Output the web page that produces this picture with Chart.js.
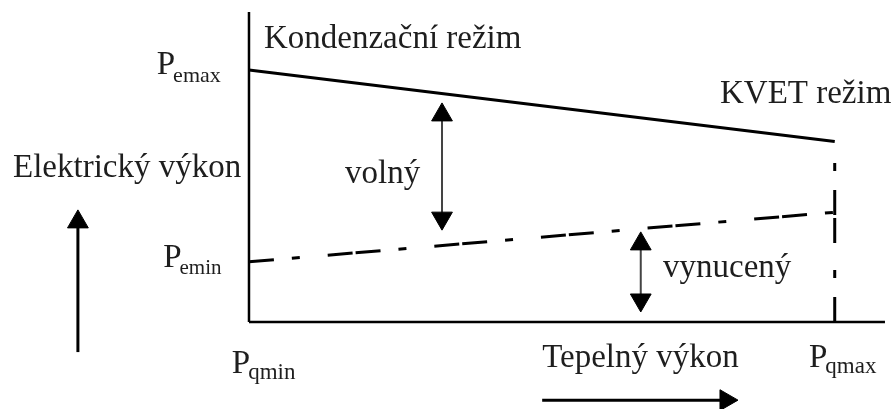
<!DOCTYPE html>
<html>
<head>
<meta charset="utf-8">
<script src="https://cdn.jsdelivr.net/npm/chart.js@4"></script>
<style>
  body { margin: 0; background: #fff; }
  #wrap { width: 894px; height: 409px; }
</style>
</head>
<body>
<div id="wrap"><canvas id="diagram" width="894" height="409"></canvas></div>
<script>
// x: 0 = Pqmin, 100 = end of x axis; y: 0 = x axis, 100 = top of y axis
const qmaxX = 92.1;
const xAxisLine = [{x: 0, y: 0}, {x: 100, y: 0}];
const yAxisLine = [{x: 0, y: 0}, {x: 0, y: 100}];
const condensLine = [{x: 0, y: 81.3}, {x: qmaxX, y: 58.2}];     // Pemax -> KVET
const forcedLine = [{x: 0, y: 19.4}, {x: qmaxX, y: 35.4}];      // Pemin -> dashed
const qmaxLine = [{x: qmaxX, y: 0}, {x: qmaxX, y: 58.2}];
const freeArrow = [{x: 30.35, y: 66.8}, {x: 30.35, y: 33.5}];
const forcedArrow = [{x: 61.6, y: 25.2}, {x: 61.6, y: 7.1}];
const yArrow = [{x: -26.9, y: -9.7}, {x: -26.9, y: 32.3}];
const xArrow = [{x: 46.1, y: -25.2}, {x: 75.0, y: -25.2}];

const labels = [
  {text: 'Kondenzační režim', x: 2.36, y: 88.4},
  {text: 'KVET režim', x: 74.06, y: 70.6},
  {text: 'Elektrický výkon', x: -37.1, y: 46.8},
  {text: 'P', sub: 'emax', subSize: 22, subDy: 8, x: -14.5, y: 80.0},
  {text: 'P', sub: 'emin', subSize: 21, subDy: 7, x: -13.5, y: 17.7},
  {text: 'P', sub: 'qmin', subSize: 23, subDy: 6, x: -2.7, y: -16.5},
  {text: 'Tepelný výkon', x: 46.1, y: -14.5},
  {text: 'P', sub: 'qmax', subSize: 23, subDy: 6, x: 88.05, y: -14.5},
  {text: 'volný', x: 15.1, y: 44.8},
  {text: 'vynucený', x: 65.1, y: 14.5}
];

const dashDot = [25, 3, 25, 18, 8, 28];

function line(data, width, dash, offset) {
  return {
    data: data,
    borderColor: '#000',
    borderWidth: width,
    borderDash: dash || [],
    borderDashOffset: offset || 0,
    pointRadius: 0
  };
}

function arrow(data, radius, rotation, width, color) {
  return {
    data: data,
    borderColor: color,
    borderWidth: width,
    pointStyle: 'triangle',
    pointRadius: radius,
    pointRotation: rotation,
    pointBackgroundColor: '#000',
    pointBorderColor: '#000',
    pointBorderWidth: 1
  };
}

const textPlugin = {
  id: 'texts',
  afterDraw(chart) {
    const ctx = chart.ctx;
    const xs = chart.scales.x, ys = chart.scales.y;
    ctx.save();
    ctx.fillStyle = '#1e1e1e';
    ctx.textBaseline = 'alphabetic';
    ctx.textAlign = 'left';
    labels.forEach(function (l) {
      const px = xs.getPixelForValue(l.x);
      const py = ys.getPixelForValue(l.y);
      ctx.font = '33px "Liberation Serif"';
      ctx.fillText(l.text, px, py);
      if (l.sub) {
        const w = ctx.measureText(l.text).width;
        ctx.font = l.subSize + 'px "Liberation Serif"';
        ctx.fillText(l.sub, px + w - 2, py + l.subDy);
      }
    });
    ctx.restore();
  }
};

const hiddenAxis = {
  type: 'linear',
  display: false
};

new Chart(document.getElementById('diagram').getContext('2d'), {
  type: 'line',
  data: {
    datasets: [
      line(xAxisLine, 2.5),
      line(yAxisLine, 2.5),
      line(condensLine, 3),
      line(forcedLine, 3, dashDot, 28),
      line(qmaxLine, 3, [25, 3, 25, 19, 8, 27], 28),
      arrow(freeArrow, 12, [0, 180], 2, '#444'),
      arrow(forcedArrow, 12, [0, 180], 2, '#444'),
      arrow(yArrow, [0, 12], [0, 0], 3, '#000'),
      arrow(xArrow, [0, 12], [90, 90], 3, '#000')
    ]
  },
  options: {
    responsive: false,
    animation: false,
    events: [],
    layout: {padding: 0, autoPadding: false},
    plugins: {legend: {display: false}, tooltip: {enabled: false}},
    scales: {
      // canvas spans x -39.15..101.42 and y -28.06..103.87 in these units
      x: Object.assign({}, hiddenAxis, {min: -39.15, max: 101.42}),
      y: Object.assign({}, hiddenAxis, {min: -28.06, max: 103.87})
    }
  },
  plugins: [textPlugin]
});
</script>
</body>
</html>
